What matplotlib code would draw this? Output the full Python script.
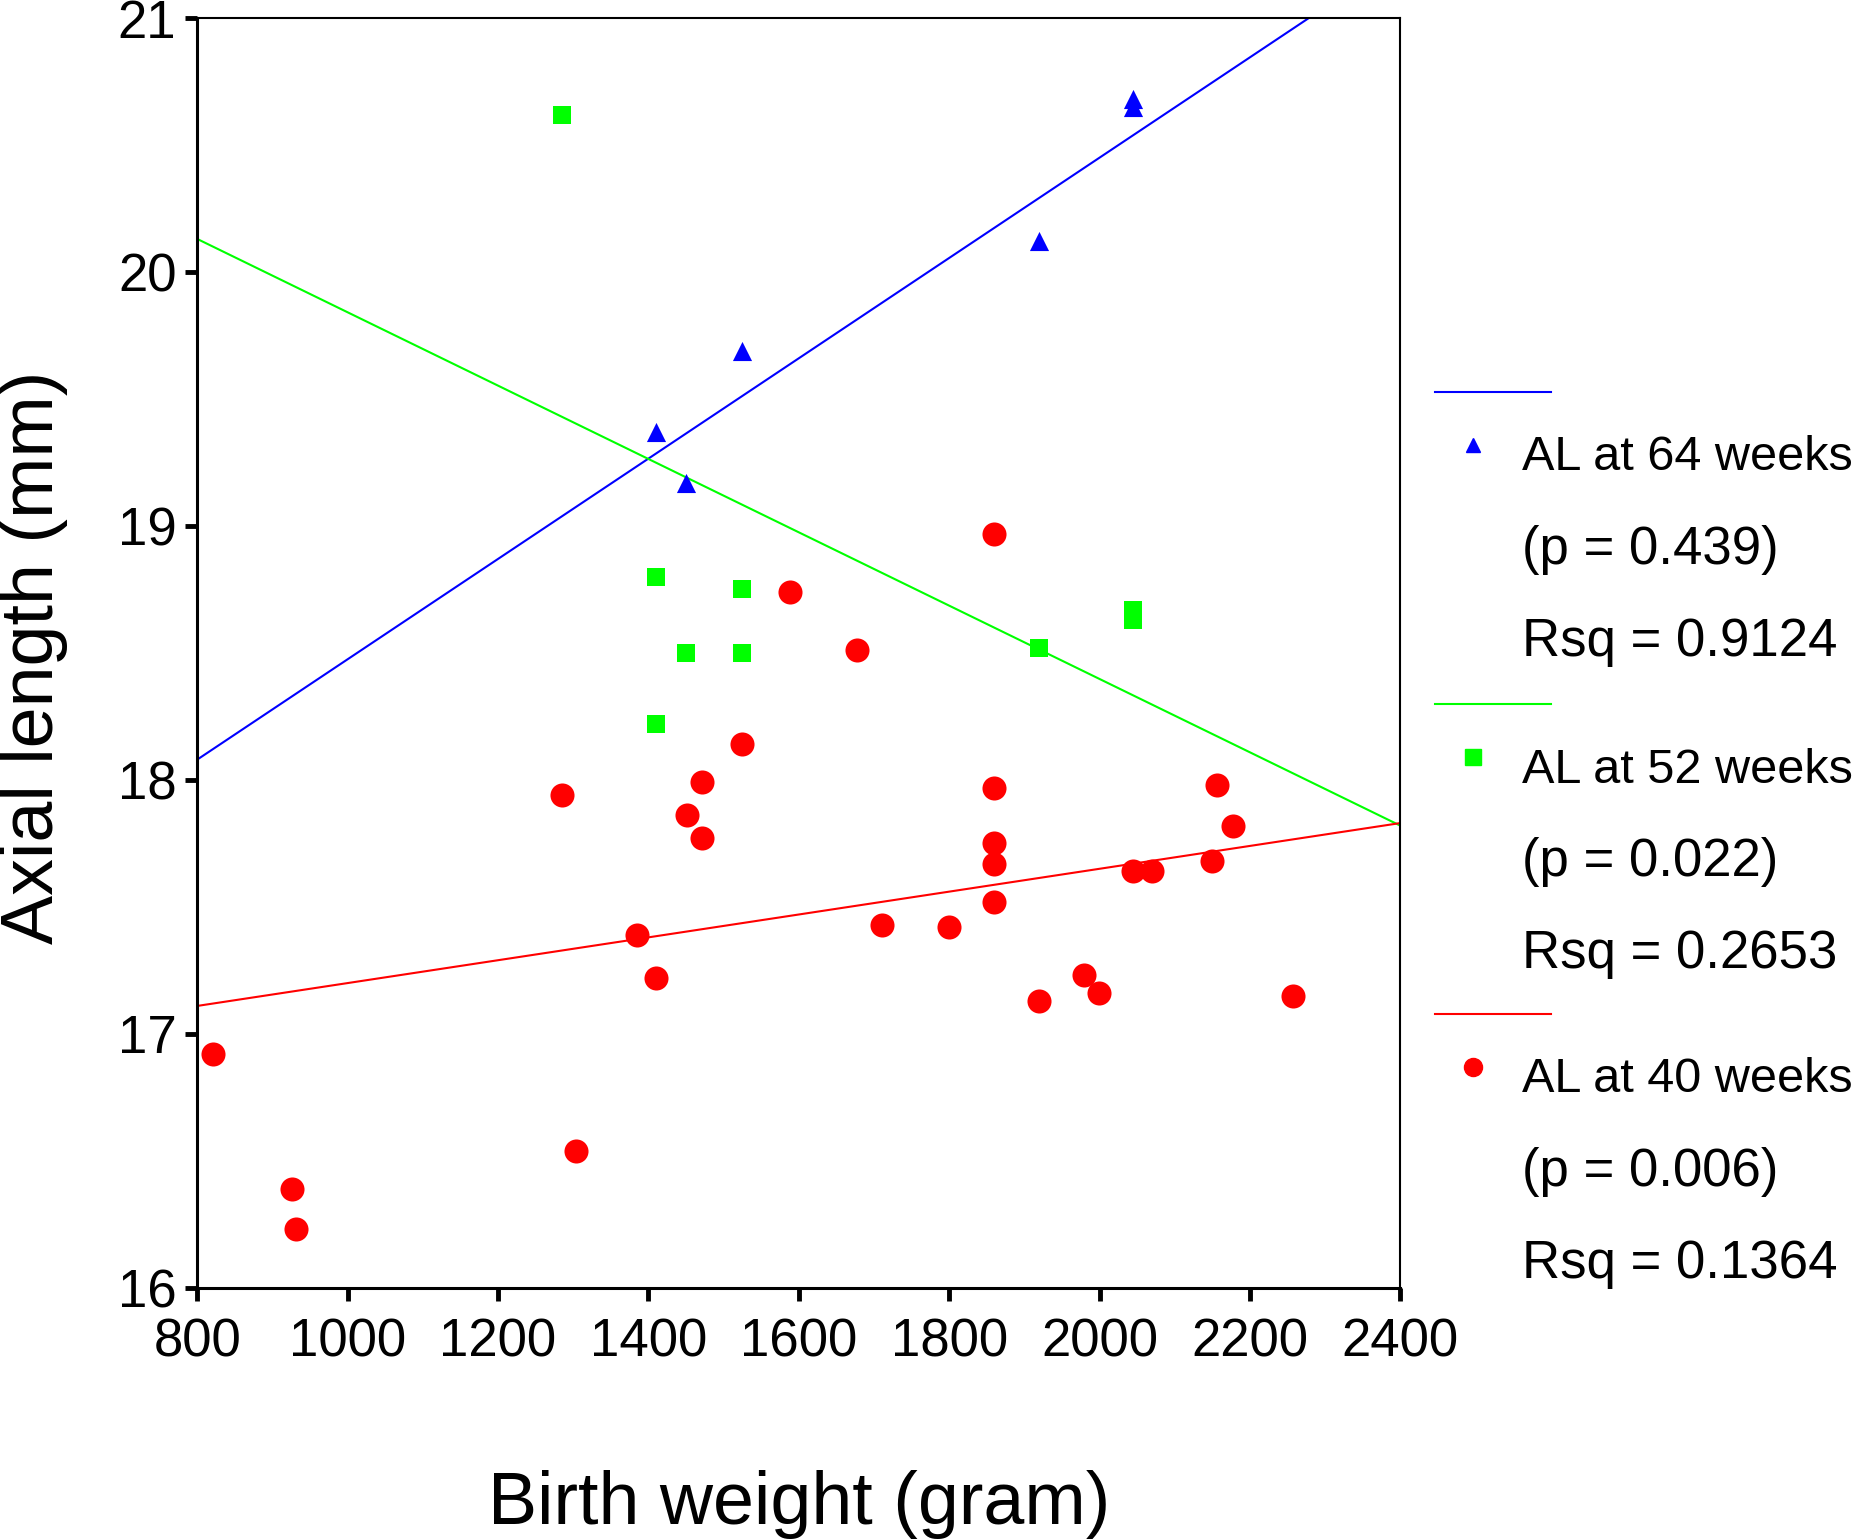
import numpy as np
import matplotlib
matplotlib.use("Agg")
import matplotlib.pyplot as plt
from matplotlib.lines import Line2D

plt.rcParams['font.family'] = ['Liberation Sans', 'DejaVu Sans']

# birth weight (g) / axial length (mm)
bw_64 = [1410, 1450, 1525, 1920, 2045, 2045]
al_64 = [19.37, 19.17, 19.69, 20.12, 20.68, 20.65]

bw_52 = [1285, 1410, 1410, 1450, 1525, 1525, 1920, 2045, 2045]
al_52 = [20.62, 18.80, 18.22, 18.50, 18.75, 18.50, 18.52, 18.67, 18.63]

bw_40 = [821, 926, 932, 1285, 1304, 1385, 1410, 1452, 1471, 1471,
         1525, 1589, 1678, 1711, 1800, 1860, 1860, 1860, 1860, 1860,
         1920, 1980, 1999, 2045, 2070, 2150, 2156, 2178, 2258]
al_40 = [16.92, 16.39, 16.23, 17.94, 16.54, 17.39, 17.22, 17.86, 17.99, 17.77,
         18.14, 18.74, 18.51, 17.43, 17.42, 18.97, 17.97, 17.75, 17.67, 17.52,
         17.13, 17.23, 17.16, 17.64, 17.64, 17.68, 17.98, 17.82, 17.15]

# fitted lines as drawn (value at 800 g and at 2400 g)
fit_64 = [18.08, 21.24]
fit_52 = [20.13, 17.82]
fit_40 = [17.11, 17.83]

labels = ['AL at 64 weeks', 'AL at 52 weeks', 'AL at 40 weeks']
p_vals = ['0.439', '0.022', '0.006']
rsq = ['0.9124', '0.2653', '0.1364']

xticks = [800, 1000, 1200, 1400, 1600, 1800, 2000, 2200, 2400]
yticks = [16, 17, 18, 19, 20, 21]

blue, green, red = '#0000ff', '#00ff00', '#ff0000'

fig = plt.figure(figsize=(18.75, 15.39), dpi=100)
ax = fig.add_axes([0.1052, 0.1632, 0.6416, 0.8251])

fit_x = [800, 2400]
ax.plot(fit_x, fit_64, color=blue, lw=1.5, zorder=2)
ax.plot(fit_x, fit_52, color=green, lw=1.5, zorder=2)
ax.plot(fit_x, fit_40, color=red, lw=1.5, zorder=2)

ax.scatter(bw_40, al_40, s=300, marker='o', color=red, lw=0, zorder=3)
ax.scatter(bw_52, al_52, s=150, marker='s', color=green, lw=0, zorder=3)
ax.scatter(bw_64, al_64, s=190, marker='^', color=blue, lw=0, zorder=3)

ax.set_xlim(800, 2400)
ax.set_ylim(16, 21)
ax.set_xticks(xticks)
ax.set_yticks(yticks)
ax.tick_params(axis='both', direction='out', length=9, width=3.5,
               labelsize=38)
ax.tick_params(axis='y', pad=6)
ax.tick_params(axis='x', pad=12)
for side in ['left', 'bottom']:
    ax.spines[side].set_linewidth(2.2)
for side in ['top', 'right']:
    ax.spines[side].set_linewidth(1.5)

fig.text(0.426, 0.0225, 'Birth weight (gram)', fontsize=53,
         ha='center', va='center')
fig.text(0.0179, 0.5726, 'Axial length (mm)', fontsize=53,
         rotation=90, ha='center', va='center')

# legend drawn by hand, outside the axes on the right
colors = [blue, green, red]
markers = ['^', 's', 'o']
msizes = [10, 11, 13]
line_y = [328, 589, 848]
for i in range(3):
    y0 = line_y[i]
    fy = lambda y: 1 - y / 1287
    fig.add_artist(Line2D([0.7653, 0.8272], [fy(y0), fy(y0)],
                          color=colors[i], lw=1.5,
                          transform=fig.transFigure))
    fig.add_artist(Line2D([0.7857], [fy(y0 + 44)], marker=markers[i],
                          markersize=msizes[i], color=colors[i], lw=0,
                          transform=fig.transFigure))
    fig.text(0.8119, fy(y0 + 55), labels[i], fontsize=35, va='center')
    fig.text(0.8119, fy(y0 + 132), '(p = ' + p_vals[i] + ')',
             fontsize=38, va='center')
    fig.text(0.8119, fy(y0 + 209), 'Rsq = ' + rsq[i], fontsize=38,
             va='center')

fig.savefig('out.png', dpi=100)
